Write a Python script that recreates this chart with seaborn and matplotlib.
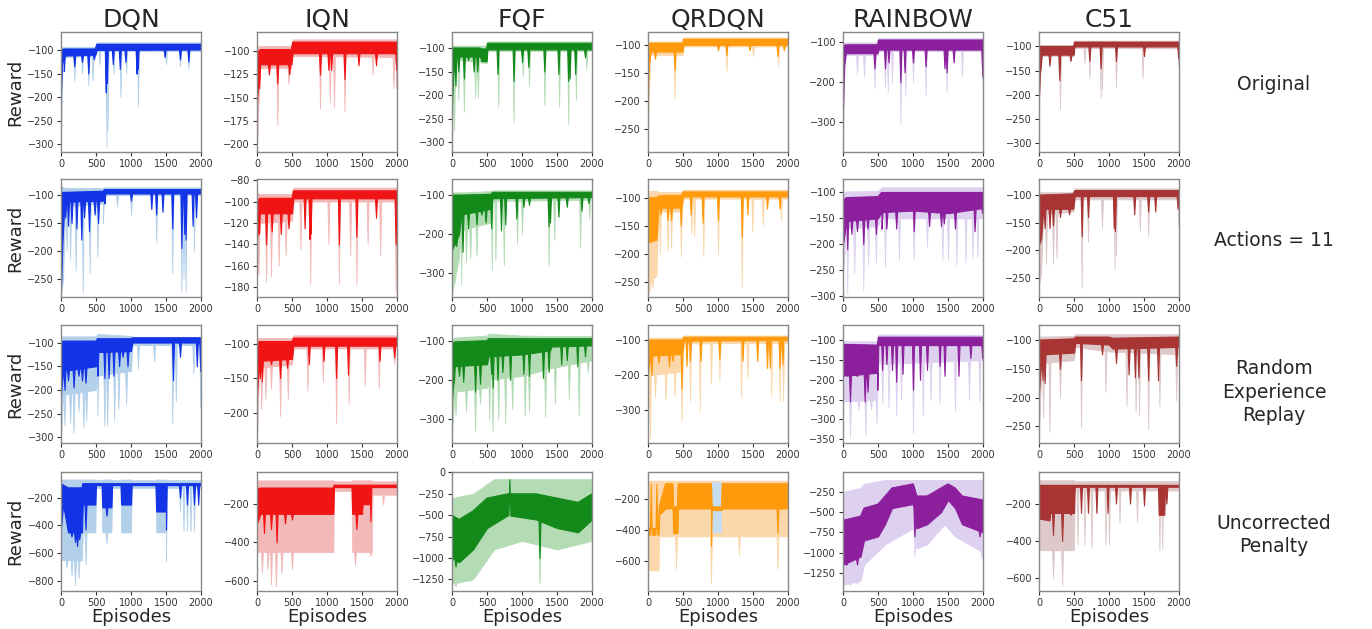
import numpy as np
import pandas as pd
import matplotlib
matplotlib.use("Agg")
import matplotlib.pyplot as plt
import seaborn as sns

# ---------------- data ----------------
ALGOS = ["DQN", "IQN", "FQF", "QRDQN", "RAINBOW", "C51"]
SCENARIOS = ["Original", "Actions = 11", "Random\nExperience\nReplay", "Uncorrected\nPenalty"]
X_TICKS = [0, 500, 1000, 1500, 2000]

# band rows: (episode, top, bottom); dips: (episode, reward)
# ---- Original ----
DQN_ORIG_BAND = [(0,-100,-185),(15,-100,-130),(40,-98,-112),(490,-98,-110),(510,-88,-100),(2000,-88,-99)]
DQN_ORIG_DIPS = [(40,-145),(190,-135),(300,-125),(390,-150),(470,-120),(640,-190),(655,-170),(740,-130),(840,-140),(920,-125),(1080,-150),(1095,-140),(1480,-115),(1700,-120),(1820,-125)]
DQN_ORIG_LBAND = [(0,-95,-280),(20,-94,-140),(40,-94,-115),(490,-94,-112),(510,-84,-102),(2000,-84,-102)]
DQN_ORIG_LDIPS = [(190,-165),(300,-150),(390,-175),(450,-165),(550,-130),(650,-305),(665,-270),(750,-150),(850,-200),(930,-150),(1100,-220),(1500,-130),(1700,-135),(1820,-140)]

IQN_ORIG_BAND = [(0,-100,-155),(20,-100,-130),(50,-98,-114),(490,-98,-114),(510,-90,-102),(2000,-90,-102)]
IQN_ORIG_DIPS = [(30,-140),(170,-125),(290,-135),(460,-125),(900,-125),(1020,-120),(1060,-120),(1250,-130),(1450,-115),(1700,-115),(1990,-120)]
IQN_ORIG_LBAND = [(0,-96,-205),(15,-95,-170),(40,-94,-118),(490,-94,-118),(510,-87,-105),(2000,-87,-106)]
IQN_ORIG_LDIPS = [(290,-180),(450,-135),(900,-162),(1040,-155),(1100,-160),(1250,-165),(1650,-125),(1950,-140),(1990,-140)]

FQF_ORIG_BAND = [(0,-100,-220),(20,-100,-150),(60,-100,-118),(400,-100,-118),(420,-102,-128),(495,-102,-128),(505,-90,-103),(2000,-90,-103)]
FQF_ORIG_DIPS = [(50,-180),(90,-150),(170,-165),(230,-125),(310,-150),(360,-150),(650,-155),(880,-170),(1000,-130),(1090,-140),(1320,-150),(1520,-155),(1660,-170),(1680,-165),(1760,-155),(1900,-120)]
FQF_ORIG_LBAND = [(0,-95,-300),(20,-95,-180),(60,-95,-125),(495,-95,-132),(505,-86,-106),(2000,-86,-106)]
FQF_ORIG_LDIPS = [(30,-275),(90,-210),(170,-235),(330,-205),(370,-205),(660,-225),(880,-258),(1010,-160),(1100,-180),(1320,-222),(1530,-225),(1660,-262),(1770,-210),(1920,-145)]

QRDQN_ORIG_BAND = [(0,-100,-190),(15,-98,-125),(40,-97,-112),(495,-97,-112),(505,-90,-100),(2000,-90,-100)]
QRDQN_ORIG_DIPS = [(20,-130),(100,-125),(380,-145),(1000,-110),(1120,-118),(1450,-110),(1850,-120),(1940,-110)]
QRDQN_ORIG_LBAND = [(0,-96,-260),(10,-95,-200),(30,-94,-118),(495,-94,-118),(505,-87,-103),(2000,-87,-103)]
QRDQN_ORIG_LDIPS = [(380,-197),(1120,-147),(1500,-120),(1860,-137)]

RAINBOW_ORIG_BAND = [(0,-110,-260),(15,-108,-160),(40,-106,-127),(495,-106,-127),(505,-94,-118),(2000,-94,-118)]
RAINBOW_ORIG_DIPS = [(450,-165),(600,-165),(650,-150),(820,-200),(880,-175),(1000,-150),(1180,-160),(1450,-165),(1480,-175),(1580,-150),(1990,-185)]
RAINBOW_ORIG_LBAND = [(0,-102,-360),(15,-100,-200),(40,-100,-132),(495,-100,-132),(505,-89,-122),(2000,-89,-122)]
RAINBOW_ORIG_LDIPS = [(200,-180),(300,-185),(450,-215),(600,-210),(640,-225),(700,-200),(820,-305),(890,-233),(1000,-200),(1180,-232),(1480,-225),(1700,-185),(1990,-195)]

C51_ORIG_BAND = [(0,-100,-200),(15,-100,-150),(40,-100,-117),(495,-100,-117),(505,-91,-100),(2000,-91,-100)]
C51_ORIG_DIPS = [(20,-150),(150,-140),(290,-170),(450,-130),(720,-130),(880,-145),(1100,-130),(1500,-120),(1990,-125)]
C51_ORIG_LBAND = [(0,-97,-230),(15,-97,-160),(40,-97,-120),(495,-97,-120),(505,-88,-103),(2000,-88,-104)]
C51_ORIG_LDIPS = [(300,-230),(650,-135),(720,-165),(880,-205),(900,-190),(1100,-185),(1480,-165),(1990,-140)]

# ---- Actions = 11 ----
DQN_ACT_BAND = [(0,-95,-270),(20,-95,-185),(50,-95,-112),(600,-93,-110),(620,-90,-97),(2000,-90,-97)]
DQN_ACT_DIPS = [(60,-140),(100,-155),(150,-150),(220,-160),(290,-180),(330,-140),(400,-165),(480,-135),(530,-150),(620,-115),(1000,-110),(1290,-125),(1360,-135),(1450,-130),(1590,-160),(1720,-195),(1760,-170),(1780,-180),(1880,-155),(1930,-140)]
DQN_ACT_LBAND = [(0,-82,-280),(30,-86,-250),(60,-87,-120),(600,-87,-115),(620,-86,-100),(2000,-86,-100)]
DQN_ACT_LDIPS = [(80,-200),(130,-215),(210,-235),(310,-275),(410,-240),(520,-210),(600,-150),(800,-120),(1000,-135),(1360,-185),(1590,-240),(1720,-275),(1750,-250),(1780,-275),(1900,-200)]

IQN_ACT_BAND = [(0,-100,-135),(40,-97,-111),(500,-97,-111),(520,-90,-97),(2000,-90,-97)]
IQN_ACT_DIPS = [(30,-130),(130,-140),(210,-128),(340,-130),(450,-125),(680,-125),(750,-135),(765,-130),(1170,-140),(1420,-133),(1700,-115),(1980,-140)]
IQN_ACT_LBAND = [(0,-92,-170),(40,-93,-120),(500,-93,-118),(520,-87,-100),(2000,-87,-100)]
IQN_ACT_LDIPS = [(20,-168),(130,-175),(200,-170),(310,-160),(410,-150),(620,-145),(760,-177),(1020,-140),(1170,-177),(1330,-150),(1420,-177),(1580,-140),(1760,-150),(1980,-185)]

FQF_ACT_BAND = [(0,-100,-240),(100,-100,-200),(130,-100,-150),(550,-98,-135),(580,-93,-108),(2000,-93,-105)]
FQF_ACT_DIPS = [(60,-230),(150,-245),(230,-185),(350,-175),(420,-150),(480,-170),(560,-185),(700,-190),(760,-175),(920,-160),(1020,-130),(1100,-125),(1380,-180),(1400,-170),(1520,-155),(1640,-130),(1850,-140),(1950,-120)]
FQF_ACT_LBAND = [(0,-93,-350),(100,-93,-260),(130,-93,-190),(550,-90,-170),(580,-88,-115),(2000,-88,-112)]
FQF_ACT_LDIPS = [(40,-320),(130,-330),(200,-270),(260,-260),(350,-255),(570,-290),(620,-265),(740,-280),(930,-225),(1000,-200),(1380,-280),(1460,-215),(1830,-235),(1960,-160)]

QRDQN_ACT_BAND = [(0,-100,-180),(120,-100,-175),(150,-97,-118),(480,-96,-118),(500,-90,-98),(2000,-90,-98)]
QRDQN_ACT_DIPS = [(180,-130),(280,-140),(330,-140),(470,-150),(610,-130),(780,-145),(1000,-140),(1340,-170),(1420,-130),(1700,-120),(1880,-120)]
QRDQN_ACT_LBAND = [(0,-88,-250),(120,-88,-240),(150,-90,-125),(480,-90,-125),(500,-86,-102),(2000,-86,-102)]
QRDQN_ACT_LDIPS = [(20,-270),(60,-260),(170,-200),(280,-195),(330,-190),(470,-205),(620,-165),(660,-170),(790,-205),(1000,-200),(1340,-260),(1490,-160),(1640,-150),(1900,-140)]

RAINBOW_ACT_BAND = [(0,-115,-200),(50,-110,-155),(500,-108,-150),(550,-100,-138),(1000,-100,-135),(1500,-100,-140),(2000,-100,-130)]
RAINBOW_ACT_DIPS = [(60,-210),(120,-180),(200,-175),(290,-200),(350,-170),(470,-180),(550,-170),(620,-170),(760,-170),(1010,-175),(1230,-165),(1400,-165),(1440,-160),(1600,-170),(1880,-175),(1990,-140)]
RAINBOW_ACT_LBAND = [(0,-100,-260),(50,-98,-170),(500,-97,-165),(550,-90,-150),(2000,-90,-150)]
RAINBOW_ACT_LDIPS = [(60,-295),(160,-255),(290,-290),(360,-240),(470,-235),(600,-245),(800,-230),(1010,-230),(1200,-205),(1420,-230),(1500,-230),(1620,-240),(1750,-235),(1850,-225),(1920,-225)]

C51_ACT_BAND = [(0,-100,-190),(30,-100,-180),(60,-100,-125),(490,-98,-125),(510,-92,-102),(2000,-92,-102)]
C51_ACT_DIPS = [(80,-160),(150,-160),(200,-155),(300,-140),(430,-135),(610,-175),(700,-140),(1070,-160),(1085,-165),(1360,-135),(1560,-130),(1660,-130),(1980,-125)]
C51_ACT_LBAND = [(0,-95,-265),(30,-95,-240),(60,-95,-135),(490,-95,-130),(510,-88,-108),(2000,-88,-108)]
C51_ACT_LDIPS = [(100,-225),(200,-225),(250,-215),(610,-268),(700,-185),(900,-160),(1080,-235),(1100,-210),(1440,-165),(1560,-175),(1990,-155)]

# ---- Random Experience Replay ----
DQN_RER_BAND = [(0,-100,-210),(30,-97,-160),(500,-97,-150),(520,-92,-120),(1000,-92,-118),(1020,-90,-100),(2000,-90,-100)]
DQN_RER_DIPS = [(50,-200),(100,-180),(180,-195),(250,-170),(300,-180),(350,-185),(520,-170),(620,-175),(680,-175),(750,-170),(830,-150),(880,-130),(950,-150),(1600,-180),(1700,-130),(1940,-150),(1990,-160)]
DQN_RER_LBAND = [(0,-87,-300),(30,-87,-210),(500,-87,-200),(520,-82,-170),(1000,-86,-160),(1020,-88,-105),(2000,-88,-105)]
DQN_RER_LDIPS = [(50,-275),(130,-270),(180,-290),(250,-245),(320,-280),(360,-265),(520,-255),(620,-275),(660,-275),(760,-265),(820,-240),(930,-230),(1100,-155),(1330,-140),(1590,-270),(1640,-225),(1890,-165),(1990,-235)]

IQN_RER_BAND = [(0,-100,-175),(30,-97,-125),(500,-97,-122),(520,-92,-103),(2000,-92,-103)]
IQN_RER_DIPS = [(40,-150),(70,-155),(200,-130),(330,-150),(430,-135),(740,-130),(950,-125),(1130,-150),(1300,-145),(1750,-125),(1960,-120)]
IQN_RER_LBAND = [(0,-92,-240),(30,-92,-135),(500,-92,-130),(520,-88,-107),(2000,-88,-107)]
IQN_RER_LDIPS = [(60,-195),(120,-180),(200,-165),(330,-205),(440,-180),(720,-168),(940,-155),(1130,-215),(1310,-188),(1540,-160),(1740,-165),(1960,-130)]

FQF_RER_BAND = [(0,-105,-250),(40,-103,-165),(500,-100,-160),(520,-95,-140),(1000,-95,-135),(1400,-95,-125),(1420,-95,-115),(2000,-95,-112)]
FQF_RER_DIPS = [(30,-200),(100,-190),(160,-205),(330,-230),(400,-210),(560,-185),(580,-220),(650,-200),(720,-180),(830,-200),(1020,-185),(1100,-190),(1300,-195),(1380,-180),(1560,-160),(1640,-150),(1790,-165),(1900,-140)]
FQF_RER_LBAND = [(0,-95,-330),(40,-92,-230),(500,-87,-220),(520,-82,-200),(1000,-87,-190),(1420,-88,-170),(2000,-88,-150)]
FQF_RER_LDIPS = [(50,-290),(200,-280),(330,-330),(400,-260),(530,-300),(580,-330),(660,-300),(760,-310),(860,-275),(1040,-290),(1100,-280),(1330,-295),(1470,-260),(1670,-250),(1810,-290),(1940,-180)]

QRDQN_RER_BAND = [(0,-100,-190),(40,-100,-145),(490,-100,-140),(510,-92,-102),(2000,-92,-100)]
QRDQN_RER_DIPS = [(50,-200),(150,-165),(300,-175),(350,-160),(480,-240),(550,-175),(600,-160),(750,-160),(1020,-155),(1350,-160),(1560,-160),(1700,-180),(1740,-180),(1880,-180),(1920,-170)]
QRDQN_RER_LBAND = [(0,-93,-300),(40,-93,-200),(490,-93,-190),(510,-87,-110),(2000,-87,-108)]
QRDQN_RER_LDIPS = [(30,-380),(100,-265),(250,-270),(380,-260),(480,-330),(600,-275),(740,-305),(900,-225),(1020,-215),(1330,-265),(1420,-210),(1760,-260),(1880,-275),(1930,-275)]

RAINBOW_RER_BAND = [(0,-110,-190),(490,-112,-182),(505,-92,-112),(2000,-92,-112)]
RAINBOW_RER_DIPS = [(30,-185),(100,-255),(200,-190),(310,-255),(350,-230),(490,-225),(560,-175),(620,-160),(700,-175),(760,-205),(850,-185),(1000,-225),(1100,-200),(1200,-175),(1380,-165),(1450,-190),(1650,-190),(1820,-145),(1990,-145)]
RAINBOW_RER_LBAND = [(0,-102,-255),(490,-102,-250),(505,-85,-160),(2000,-86,-150)]
RAINBOW_RER_LDIPS = [(100,-345),(220,-275),(320,-340),(400,-275),(480,-310),(560,-260),(650,-270),(760,-290),(830,-250),(1000,-335),(1140,-290),(1250,-250),(1380,-260),(1600,-280),(1800,-250),(1950,-255)]

C51_RER_BAND = [(0,-100,-190),(40,-100,-125),(500,-98,-122),(520,-95,-105),(1000,-95,-108),(1050,-97,-115),(2000,-95,-112)]
C51_RER_DIPS = [(50,-170),(80,-175),(300,-150),(600,-170),(900,-125),(1100,-140),(1280,-160),(1370,-165),(1420,-165),(1560,-170),(1700,-170),(1960,-145)]
C51_RER_LBAND = [(0,-94,-260),(40,-94,-140),(500,-93,-135),(520,-90,-112),(1000,-90,-120),(2000,-90,-125)]
C51_RER_LDIPS = [(60,-235),(150,-260),(300,-200),(600,-252),(950,-190),(1250,-215),(1380,-225),(1430,-230),(1560,-255),(1720,-215),(1960,-205)]

# ---- Uncorrected Penalty ----
DQN_UNC_BAND = [(0,-100,-420),(30,-110,-250),(100,-130,-450),(300,-130,-450),(310,-100,-250),(490,-100,-250),(500,-100,-110),(580,-100,-110),(590,-100,-270),(720,-100,-270),(730,-100,-110),(850,-100,-110),(860,-100,-250),(1000,-100,-250),(1010,-100,-110),(1350,-100,-110),(1360,-100,-300),(1500,-100,-300),(1510,-100,-110),(2000,-100,-110)]
DQN_UNC_DIPS = [(150,-480),(200,-520),(230,-550),(260,-500),(350,-430),(650,-330),(1500,-430),(1700,-200),(1800,-250),(1900,-250),(1960,-250)]
DQN_UNC_LBAND = [(0,-70,-650),(300,-70,-650),(310,-70,-450),(490,-70,-450),(500,-75,-130),(580,-75,-130),(590,-70,-450),(720,-70,-450),(730,-75,-130),(850,-75,-130),(860,-70,-450),(1000,-70,-450),(1010,-75,-130),(1350,-75,-130),(1360,-70,-450),(1500,-70,-450),(1510,-75,-130),(2000,-75,-130)]
DQN_UNC_LDIPS = [(80,-700),(150,-760),(200,-830),(250,-780),(350,-680),(650,-530),(1500,-660),(1700,-300),(1750,-440),(1800,-440),(1850,-440),(1900,-440)]

IQN_UNC_BAND = [(0,-120,-300),(50,-115,-250),(1090,-115,-250),(1100,-100,-110),(1350,-100,-110),(1360,-100,-250),(1500,-100,-250),(1510,-100,-200),(1600,-100,-200),(1610,-100,-110),(2000,-100,-110)]
IQN_UNC_DIPS = [(100,-350),(200,-330),(280,-400),(400,-300),(500,-280),(1420,-330),(1620,-290)]
IQN_UNC_LBAND = [(0,-75,-450),(1090,-75,-450),(1100,-80,-130),(1350,-80,-130),(1360,-75,-450),(1640,-75,-450),(1650,-80,-150),(2000,-80,-150)]
IQN_UNC_LDIPS = [(70,-560),(150,-540),(200,-620),(270,-630),(350,-560),(500,-540),(1400,-520),(1620,-470),(1800,-200)]

FQF_UNC_BAND = [(0,-500,-1000),(100,-550,-1050),(300,-450,-900),(500,-300,-650),(800,-250,-500),(1200,-250,-550),(1500,-300,-650),(1800,-350,-700),(2000,-250,-550)]
FQF_UNC_DIPS = [(50,-1100),(100,-1050),(820,-80),(1250,-1000)]
FQF_UNC_LBAND = [(0,-300,-1300),(300,-250,-1250),(600,-80,-900),(1000,-80,-800),(1500,-80,-900),(2000,-80,-800)]
FQF_UNC_LDIPS = [(50,-1330),(250,-1270),(1250,-1300)]

QRDQN_UNC_BAND = [(0,-390,-430),(150,-390,-430),(160,-250,-300),(250,-100,-260),(350,-100,-260),(360,-250,-420),(420,-250,-420),(430,-100,-260),(900,-100,-260),(910,-250,-270),(1050,-250,-270),(1060,-100,-260),(2000,-100,-260)]
QRDQN_UNC_DIPS = [(40,-100),(120,-100),(900,-500),(1850,-420)]
QRDQN_UNC_LBAND = [(0,-80,-660),(150,-80,-660),(160,-80,-440),(2000,-80,-440)]
QRDQN_UNC_LDIPS = [(400,-650),(900,-750),(1300,-560),(1850,-650)]
QRDQN_UNC_PATCH = [(910,-90,-420),(1050,-90,-420)]

RAINBOW_UNC_BAND = [(0,-600,-1150),(250,-550,-1050),(300,-450,-850),(500,-400,-800),(600,-300,-650),(700,-200,-450),(1000,-150,-400),(1050,-300,-700),(1200,-300,-650),(1400,-200,-500),(1500,-150,-350),(1600,-200,-450),(1700,-300,-650),(2000,-350,-750)]
RAINBOW_UNC_DIPS = [(50,-1150),(200,-1150),(1020,-800),(1950,-800)]
RAINBOW_UNC_LBAND = [(0,-250,-1400),(250,-200,-1350),(300,-150,-1150),(600,-100,-900),(1000,-100,-700),(1050,-100,-950),(1200,-100,-900),(1450,-100,-650),(1600,-100,-800),(2000,-100,-1000)]
RAINBOW_UNC_LDIPS = [(100,-1400),(200,-1390),(1020,-1050),(1980,-1070)]

C51_UNC_BAND = [(0,-100,-280),(150,-100,-290),(160,-100,-250),(500,-100,-250),(510,-100,-110),(1700,-100,-110),(1710,-100,-260),(1790,-100,-260),(1800,-100,-110),(2000,-100,-110)]
C51_UNC_DIPS = [(200,-370),(330,-400),(450,-260),(600,-250),(700,-250),(820,-250),(980,-250),(1100,-200),(1300,-200),(1500,-210),(1820,-200)]
C51_UNC_LBAND = [(0,-75,-450),(500,-75,-450),(510,-80,-130),(2000,-80,-130)]
C51_UNC_LDIPS = [(200,-600),(330,-640),(550,-420),(650,-420),(750,-440),(950,-420),(1000,-420),(1150,-300),(1400,-300),(1720,-450),(1760,-440)]

# y limits and y tick labels per row (columns in ALGOS order)
YLIM_ORIG = [(-316,-62),(-209,-79),(-321,-66),(-292,-77),(-374,-74),(-319,-70)]
YLIM_ACT = [(-283,-71),(-189,-79),(-360,-59),(-277,-67),(-302,-74),(-285,-71)]
YLIM_RER = [(-312,-63),(-244,-73),(-361,-60),(-395,-57),(-360,-61),(-279,-74)]
YLIM_UNC = [(-872,-16),(-654,-31),(-1386,5),(-794,-24),(-1476,-3),(-668,-31)]
YT_ORIG = [[-300,-250,-200,-150,-100],[-200,-175,-150,-125,-100],[-300,-250,-200,-150,-100],
           [-250,-200,-150,-100],[-300,-200,-100],[-300,-250,-200,-150,-100]]
YT_ACT = [[-250,-200,-150,-100],[-180,-160,-140,-120,-100,-80],[-300,-200,-100],
          [-250,-200,-150,-100],[-300,-250,-200,-150,-100],[-250,-200,-150,-100]]
YT_RER = [[-300,-250,-200,-150,-100],[-200,-150,-100],[-300,-200,-100],
          [-300,-200,-100],[-350,-300,-250,-200,-150,-100],[-250,-200,-150,-100]]
YT_UNC = [[-800,-600,-400,-200],[-600,-400,-200],[-1250,-1000,-750,-500,-250,0],
          [-600,-400,-200],[-1250,-1000,-750,-500,-250],[-600,-400,-200]]

DARK = ["#1233e6", "#f01414", "#13891a", "#ff9a0c", "#8c1f9c", "#a83434"]
LIGHT = ["#b3d0ea", "#f3b9b9", "#b3dcb5", "#fbd7ab", "#ddd1ef", "#ddc9c9"]
PATCH_COLOR = "#c7dcec"

# ---------------- figure ----------------
sns.set_style("ticks")
plt.rcParams["font.family"] = ["DejaVu Sans"]

fig = plt.figure(figsize=(13.72, 6.29), dpi=100)
W, H = 1372.0, 629.0
LEFTS = [61, 257, 452, 648, 843, 1039]
ROWS = [(32, 152), (179, 297), (325, 443), (472, 591)]
ROW_LABEL_Y = [85, 240, 392, 535]

g = globals()
prefixes = ["ORIG", "ACT", "RER", "UNC"]
ylims = [YLIM_ORIG, YLIM_ACT, YLIM_RER, YLIM_UNC]
yticks = [YT_ORIG, YT_ACT, YT_RER, YT_UNC]
SPIKE_W = 14


def edge(rows, dips):
    bx = [r[0] for r in rows]
    top = [r[1] for r in rows]
    bot = [r[2] for r in rows]
    xs = list(bx)
    ys = list(bot)
    for e, v in dips:
        for xe in (e - SPIKE_W, e + SPIKE_W):
            xc = min(max(xe, 0), 2000)
            xs.append(xc)
            ys.append(np.interp(xc, bx, bot))
        xs.append(e)
        ys.append(v)
    order = np.argsort(np.array(xs, dtype=float), kind="stable")
    xs = np.array(xs, dtype=float)[order]
    ys = np.array(ys, dtype=float)[order]
    hi = np.interp(xs, bx, top)
    return xs, hi, ys


for r, pre in enumerate(prefixes):
    y0, y1 = ROWS[r]
    for c, alg in enumerate(ALGOS):
        ax = fig.add_axes([LEFTS[c] / W, 1 - y1 / H, 140 / W, (y1 - y0) / H])
        band = g[f"{alg}_{pre}_BAND"]
        dips = g[f"{alg}_{pre}_DIPS"]
        lband = g[f"{alg}_{pre}_LBAND"]
        ldips = g[f"{alg}_{pre}_LDIPS"]

        lx, lhi, llo = edge(lband, ldips)
        ax.fill_between(lx, llo, lhi, color=LIGHT[c], lw=0.6, edgecolor=LIGHT[c])
        patch = g.get(f"{alg}_{pre}_PATCH")
        if patch:
            ax.fill_between([p[0] for p in patch], [p[2] for p in patch],
                            [p[1] for p in patch], color=PATCH_COLOR, lw=0)
        dx, dhi, dlo = edge(band, dips)
        ax.fill_between(dx, dlo, dhi, color=DARK[c], lw=0.8, edgecolor=DARK[c])
        df = pd.DataFrame({"Episodes": dx, "Reward": dhi})
        sns.lineplot(data=df, x="Episodes", y="Reward", ax=ax, color=DARK[c],
                     lw=0.8, estimator=None, sort=False)

        ax.set_xlim(0, 2000)
        ax.set_ylim(*ylims[r][c])
        ax.set_xticks(X_TICKS)
        ax.set_yticks(yticks[r][c])
        ax.tick_params(labelsize=7, length=3, width=0.8, pad=2, colors="#333333")
        for s in ax.spines.values():
            s.set_color("#888888")
            s.set_linewidth(1.0)
        ax.set_xlabel("Episodes" if r == 3 else "", fontsize=13, labelpad=0)
        ax.set_ylabel("Reward" if c == 0 else "", fontsize=13, labelpad=2)
        if r == 0:
            ax.set_title(alg, fontsize=18, pad=3)
    fig.text(1274 / W, 1 - ROW_LABEL_Y[r] / H, SCENARIOS[r], ha="center",
             va="center", fontsize=13.5, linespacing=1.3)

fig.savefig("out.png", dpi=100)
